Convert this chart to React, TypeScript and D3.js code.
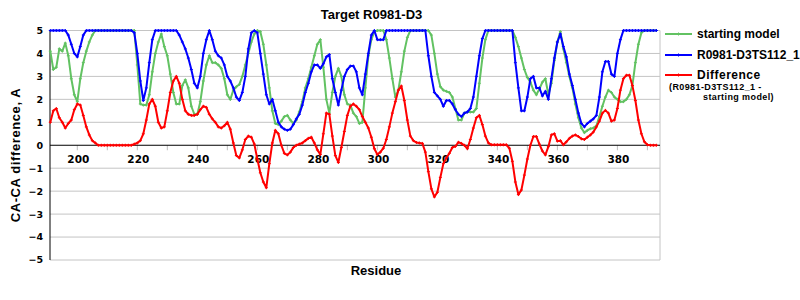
import React from "react";
import * as d3 from "d3";

const residueFirst = 191;
const residueLast = 393;
const xTickValues = [200, 210, 220, 230, 240, 250, 260, 270, 280, 290, 300, 310, 320, 330, 340, 350, 360, 370, 380, 390];
const xLabelValues = [200, 220, 240, 260, 280, 300, 320, 340, 360, 380];
const yTickValues = [5, 4, 3, 2, 1, 0, -1, -2, -3, -4, -5];

// residues 191..393
const startingModel = [
  4.1, 3.3, 3.4, 4.2, 4.1, 4.45, 3.9, 2.9, 2.2, 1.9, // 191-200
  2.9, 3.6, 4.1, 4.5, 4.8, 5, 5, 5, 5, 5, // 201-210
  5, 5, 5, 5, 5, 5, 5, 5, 5, 3.5, // 211-220
  1.8, 1.75, 1.75, 2.2, 3.2, 4.0, 4.5, 4.85, 4.3, 3.9, // 221-230
  3.1, 2.3, 1.8, 1.8, 2.6, 2.85, 2.5, 1.7, 1.35, 1.35, // 231-240
  1.9, 2.8, 3.5, 3.9, 3.6, 3.6, 3.5, 3.35, 2.9, 2.2, // 241-250
  2.0, 2.4, 2.55, 2.65, 3.0, 3.5, 4.0, 4.5, 4.85, 5, // 251-260
  4.95, 4.4, 3.5, 2.5, 1.5, 0.95, 0.9, 1.05, 1.25, 1.3, // 261-270
  1.1, 0.95, 1.1, 1.45, 1.9, 2.5, 2.9, 3.4, 3.9, 4.4, // 271-280
  4.6, 3.4, 2.0, 1.4, 2.3, 3.0, 3.35, 3.0, 2.2, 1.8, // 281-290
  1.75, 1.4, 1.25, 0.95, 1.0, 2.5, 3.9, 4.6, 4.95, 5, // 291-300
  5, 5, 4.6, 3.8, 2.9, 2.1, 2.4, 3.2, 4.1, 4.7, // 301-310
  5, 5, 5, 5, 5, 5, 5, 4.8, 4.0, 3.1, // 311-320
  2.55, 2.4, 2.35, 2.3, 2.1, 1.6, 1.1, 1.1, 1.4, 1.45, // 321-330
  1.45, 1.45, 1.6, 2.7, 3.8, 4.6, 5, 5, 5, 5, // 331-340
  5, 5, 5, 5, 5, 4.7, 4.3, 3.8, 3.3, 2.95, // 341-350
  2.75, 2.4, 2.2, 2.45, 2.75, 2.9, 2.2, 2.7, 3.7, 4.5, // 351-360
  4.95, 4.2, 3.6, 3.0, 2.5, 1.8, 1.2, 0.75, 0.55, 0.65, // 361-370
  0.72, 0.75, 0.85, 1.25, 1.7, 2.1, 2.4, 2.3, 2.1, 2.0, // 371-380
  1.9, 1.9, 2.0, 2.2, 2.6, 3.6, 4.4, 4.9, 5, 5, // 381-390
  5, 5, 5, // 391-393
];

const modelTS112 = [
  5, 5, 5, 5, 5, 5, 4.8, 4.4, 4.0, 3.85, // 191-200
  4.3, 4.8, 5, 5, 5, 5, 5, 5, 5, 5, // 201-210
  5, 5, 5, 5, 5, 5, 5, 5, 4.9, 4.0, // 211-220
  2.8, 1.95, 2.5, 3.6, 4.6, 5, 5, 5, 5, 5, // 221-230
  5, 5, 5, 4.8, 4.5, 4.2, 3.8, 3.3, 2.7, 2.5, // 231-240
  3.0, 4.0, 4.6, 5.0, 4.6, 4.1, 3.9, 3.8, 3.5, 3.0, // 241-250
  2.8, 2.5, 2.1, 1.95, 2.3, 3.0, 4.2, 4.9, 5, 4.9, // 251-260
  4.0, 3.1, 2.2, 1.8, 2.0, 1.5, 1.0, 0.8, 0.7, 0.65, // 261-270
  0.7, 0.9, 1.15, 1.35, 1.75, 2.3, 2.7, 3.2, 3.5, 3.5, // 271-280
  3.35, 3.55, 3.85, 3.95, 2.9, 2.3, 1.75, 2.4, 3.0, 3.3, // 281-290
  3.45, 3.45, 3.2, 2.5, 2.2, 3.1, 4.0, 4.8, 5, 4.6, // 291-300
  4.6, 4.6, 5, 5, 5, 5, 5, 5, 5, 5, // 301-310
  5, 5, 5, 5, 5, 5, 3.9, 3.0, 2.3, 2.15, // 311-320
  2.0, 1.7, 1.95, 1.95, 1.8, 1.55, 1.35, 1.25, 1.4, 1.45, // 321-330
  1.6, 2.1, 3.0, 3.9, 4.65, 5, 5, 5, 5, 5, // 331-340
  5, 5, 5, 5, 5, 3.6, 2.5, 1.5, 1.5, 2.1, // 341-350
  2.9, 3.0, 2.5, 2.5, 2.15, 2.35, 2.0, 2.9, 3.8, 4.5, // 351-360
  4.85, 4.3, 3.85, 3.1, 2.6, 2.0, 1.4, 0.95, 0.8, 0.95, // 361-370
  1.05, 1.15, 1.3, 2.1, 3.2, 3.65, 3.65, 3.1, 3.0, 4.0, // 371-380
  4.6, 5, 5, 5, 5, 5, 5, 5, 5, 5, // 381-390
  5, 5, 5, // 391-393
];

const difference = [
  1.0, 1.5, 1.6, 1.2, 1.0, 0.75, 0.95, 1.1, 1.55, 1.8, // 191-200
  1.75, 1.3, 0.8, 0.45, 0.2, 0.1, 0, 0, 0, 0, // 201-210
  0, 0, 0, 0, 0, 0, 0, 0, 0.05, 0.1, // 211-220
  0.2, 0.5, 1.1, 1.8, 2.0, 1.7, 1.0, 0.75, 0.8, 1.5, // 221-230
  2.3, 2.8, 3.0, 2.7, 2.0, 1.5, 1.35, 1.3, 1.3, 1.35, // 231-240
  1.55, 1.7, 1.65, 1.35, 1.15, 1.0, 0.8, 0.75, 0.85, 1.0, // 241-250
  0.7, 0.1, -0.45, -0.55, -0.2, 0.25, 0.4, 0.35, 0.05, -0.6, // 251-260
  -1.2, -1.6, -1.85, -0.8, 0.1, 0.65, 0.5, 0.0, -0.35, -0.42, // 261-270
  -0.3, -0.1, 0.0, 0.05, 0.1, 0.2, 0.3, 0.35, 0.1, -0.2, // 271-280
  -0.4, 0.5, 1.4, 1.35, 0.4, -0.45, -0.75, -0.1, 0.6, 1.3, // 281-290
  1.7, 1.8, 1.7, 1.55, 1.25, 1.0, 0.75, 0.35, -0.15, -0.4, // 291-300
  -0.3, -0.13, 0.25, 0.8, 1.4, 1.9, 2.4, 2.58, 1.95, 1.1, // 301-310
  0.4, 0.2, 0.12, 0.1, 0.08, -0.3, -1.15, -1.9, -2.25, -2.05, // 311-320
  -1.4, -0.8, -0.55, -0.35, -0.1, -0.05, 0.13, 0.08, 0.0, -0.15, // 321-330
  0.25, 0.75, 1.2, 1.3, 0.9, 0.4, 0.1, 0.02, 0.02, 0.02, // 331-340
  0.02, 0.02, 0.02, -0.13, -0.7, -1.6, -2.15, -1.95, -1.3, -0.6, // 341-350
  0.0, 0.38, 0.38, 0.05, -0.25, -0.42, -0.06, 0.45, 0.5, 0.18, // 351-360
  0.2, 0.02, 0.15, 0.3, 0.4, 0.45, 0.38, 0.28, 0.25, 0.35, // 361-370
  0.45, 0.58, 0.8, 1.05, 1.4, 1.52, 1.4, 1.05, 1.1, 1.6, // 371-380
  2.4, 2.9, 3.05, 3.05, 2.6, 1.95, 1.1, 0.5, 0.15, 0.02, // 381-390
  0, 0, 0, // 391-393
];

const residues = d3.range(residueFirst, residueLast + 1);

const seriesNames = ["starting model", "R0981-D3TS112_1", "Difference"];
const seriesColors = ["#62c262", "#0000ff", "#ff0000"];
const seriesData = [startingModel, modelTS112, difference];

const W = 800;
const H = 300;
const plotLeft = 50;
const plotRight = 660;
const plotTop = 30.5;
const plotBottom = 260;

const font = "'Liberation Sans', Arial, sans-serif";
const numFont = "'DejaVu Sans', Verdana, sans-serif";

export default function App() {
  const x = d3.scaleLinear().domain([190.9, 394.2]).range([plotLeft, plotRight]);
  const y = d3.scaleLinear().domain([-5, 5]).range([plotBottom, plotTop]);

  const line = d3
    .line<number>()
    .x((_, i) => x(residues[i]))
    .y((d) => y(d));

  const legendY = [34, 55, 75];

  return (
    <svg
      width={W}
      height={H}
      style={{ position: "absolute", left: 0, top: 0, background: "#fff" }}
    >
      <rect x={0} y={0} width={W} height={H} fill="#fff" />
      {/* gridlines */}
      {yTickValues.map((v) =>
        v === 0 ? null : (
          <line
            key={"g" + v}
            x1={plotLeft}
            x2={plotRight}
            y1={y(v)}
            y2={y(v)}
            stroke="#c4c4c4"
            strokeWidth={1}
          />
        )
      )}
      <line x1={plotRight} x2={plotRight} y1={plotTop} y2={plotBottom} stroke="#c4c4c4" strokeWidth={1} />
      {/* x ticks */}
      {xTickValues.map((t) => (
        <line
          key={"t" + t}
          x1={x(t)}
          x2={x(t)}
          y1={y(0)}
          y2={y(0) + 5}
          stroke="#bdbdbd"
          strokeWidth={1}
        />
      ))}
      {/* axes */}
      <line x1={plotLeft} x2={plotRight} y1={y(0)} y2={y(0)} stroke="#000" strokeWidth={1} />
      <line x1={plotLeft} x2={plotLeft} y1={plotTop} y2={plotBottom} stroke="#000" strokeWidth={1} />

      {/* y labels */}
      {yTickValues.map((v) => (
        <text
          key={"yl" + v}
          x={43}
          y={y(v) + 3.4}
          textAnchor="end"
          fontFamily={numFont}
          fontWeight="bold"
          fontSize={9.5}
          fill="#000"
        >
          {v < 0 ? "\u2212" + Math.abs(v) : String(v)}
        </text>
      ))}
      {/* x labels */}
      {xLabelValues.map((t) => (
        <text
          key={"xl" + t}
          x={x(t) + 1}
          y={y(0) + 17.5}
          textAnchor="middle"
          fontFamily={numFont}
          fontWeight="bold"
          fontSize={10.5}
          fill="#000"
        >
          {t}
        </text>
      ))}

      {/* series */}
      {seriesData.map((data, si) => (
        <g key={"s" + si}>
          <path
            d={line(data) || ""}
            fill="none"
            stroke={seriesColors[si]}
            strokeWidth={2}
            strokeLinejoin="round"
          />
          {data.map((v, i) => (
            <path
              key={i}
              d={`M${x(residues[i]) - 1.5},${y(v)}h3M${x(residues[i])},${y(v) - 1.5}v3`}
              stroke={seriesColors[si]}
              strokeWidth={1}
            />
          ))}
        </g>
      ))}

      {/* title */}
      <text
        x={371.5}
        y={19}
        textAnchor="middle"
        fontFamily={font}
        fontWeight="bold"
        fontSize={13}
        fill="#000"
      >
        Target R0981-D3
      </text>
      {/* axis titles */}
      <text
        x={376}
        y={275}
        textAnchor="middle"
        fontFamily={font}
        fontWeight="bold"
        fontSize={13}
        fill="#000"
      >
        Residue
      </text>
      <text
        transform="translate(20,155) rotate(-90)"
        textAnchor="middle"
        fontFamily={font}
        fontWeight="bold"
        fontSize={13}
        letterSpacing={0.6}
        fill="#000"
      >
        CA-CA difference, A
      </text>

      {/* legend */}
      {seriesNames.map((name, i) => (
        <g key={"lg" + i}>
          <line
            x1={665}
            x2={692}
            y1={legendY[i]}
            y2={legendY[i]}
            stroke={seriesColors[i]}
            strokeWidth={2}
          />
          <path
            d={`M677,${legendY[i]}h3M678.5,${legendY[i] - 1.5}v3`}
            stroke={seriesColors[i]}
            strokeWidth={1}
          />
          <text
            x={697}
            y={legendY[i] + 4.3}
            fontFamily={font}
            fontWeight="bold"
            fontSize={12}
            letterSpacing={i === 2 ? 0.5 : 0}
            fill="#000"
          >
            {name}
          </text>
        </g>
      ))}
      <text x={669} y={89.5} fontFamily={font} fontWeight="bold" fontSize={9} letterSpacing={0.4} fill="#000">
        (R0981-D3TS112_1 -
      </text>
      <text x={703} y={99.5} fontFamily={font} fontWeight="bold" fontSize={9} letterSpacing={0.4} fill="#000">
        starting model)
      </text>
    </svg>
  );
}
